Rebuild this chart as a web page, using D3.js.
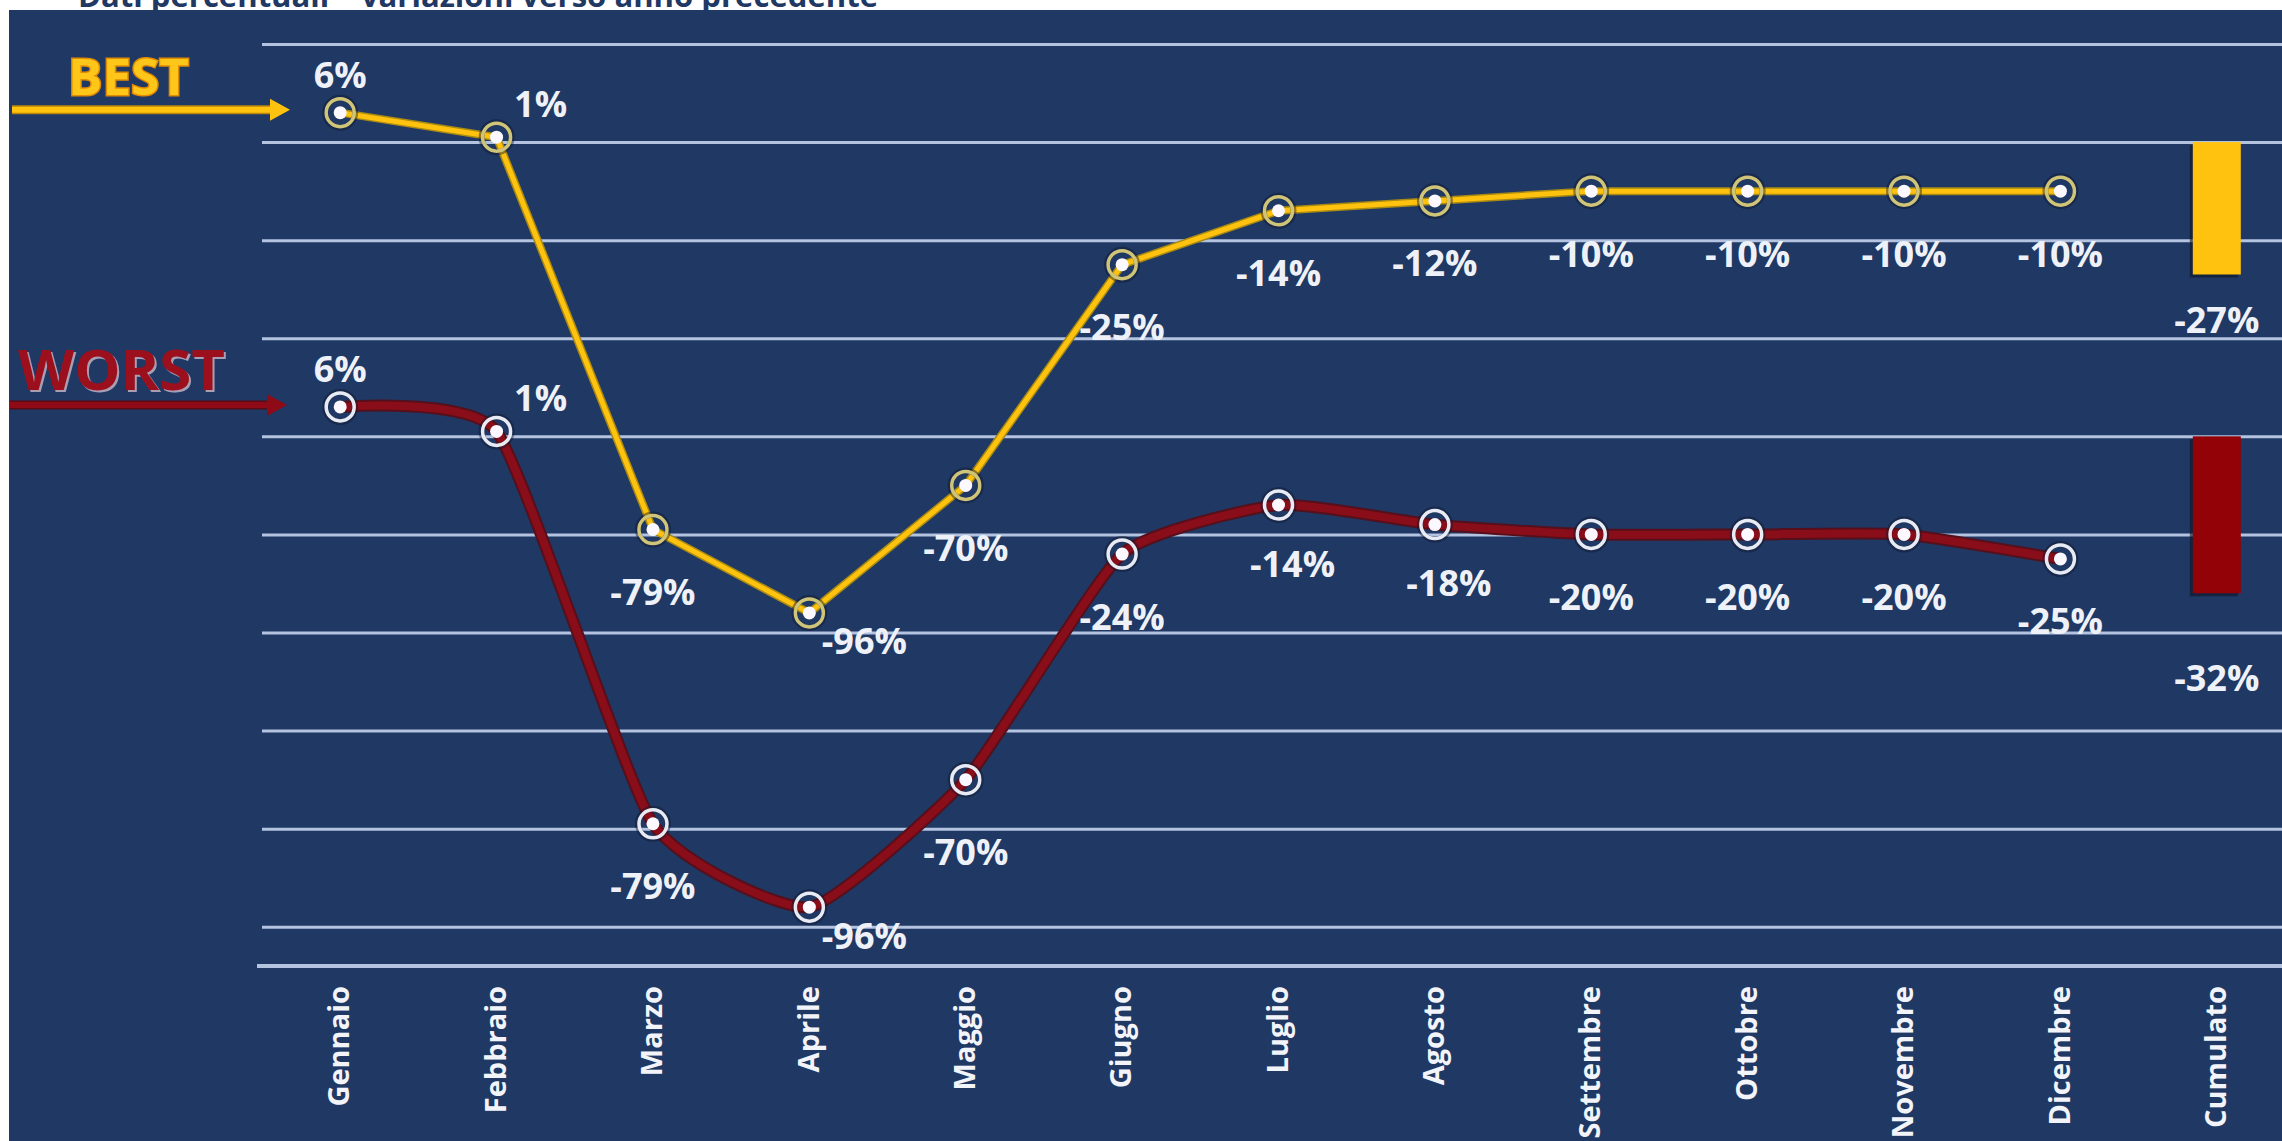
<!DOCTYPE html>
<html>
<head>
<meta charset="utf-8">
<script src="https://cdn.jsdelivr.net/npm/d3@7"></script>
<style>
  html, body { margin: 0; padding: 0; background: #ffffff; overflow: hidden; }
  svg { display: block; font-family: "Open Sans", "DejaVu Sans", sans-serif; }
</style>
</head>
<body>
<svg id="chart" width="2282" height="1141"></svg>
<script>
// ---- data -------------------------------------------------------------
const months = ["Gennaio", "Febbraio", "Marzo", "Aprile", "Maggio", "Giugno",
                "Luglio", "Agosto", "Settembre", "Ottobre", "Novembre", "Dicembre"];
const cumulatoLabel = "Cumulato";
const categories = [...months, cumulatoLabel];

const seriesNames = ["BEST", "WORST"];
const bestValues  = [6, 1, -79, -96, -70, -25, -14, -12, -10, -10, -10, -10];
const worstValues = [6, 1, -79, -96, -70, -24, -14, -18, -20, -20, -20, -25];
const cumulatoValues = [-27, -32];   // BEST, WORST

const gridValues = d3.range(20, -161, -20);

// label placement around each point
const bestLabelPlacement  = ["above", "aboveRight", "below", "belowRight", "below", "below",
                             "below", "below", "below", "below", "below", "below"];
const worstLabelPlacement = ["above", "aboveRight", "below", "belowRight", "belowFar", "below",
                             "belowSlightRight", "belowSlightRight", "below", "below", "below", "below"];

// ---- layout ------------------------------------------------------------
const W = 2282, H = 1141;
const plotLeft = 262, axisY = 966;
const colors = {
  panel: "#1f3864",
  grid: "#b3c3e0",
  title: "#1f3864",
  best: "#ffc20e",
  bestEdge: "#a98a12",
  bestRing: "#cfc478",
  worst: "#8a0d1a",
  worstEdge: "#55101c",
  worstRing: "#e8ebf3",
  label: "#eef2f8"
};
const offsets = {
  above: [0, -38],
  aboveRight: [44, -34],
  below: [0, 62],
  belowFar: [0, 72],
  belowSlightRight: [14, 58],
  belowRight: [55, 28]
};

const svg = d3.select("#chart");

// heading strip above the panel
svg.append("text")
  .attr("x", 78).attr("y", 7)
  .attr("textLength", 800).attr("lengthAdjust", "spacingAndGlyphs")
  .style("font-size", "30px").style("font-weight", 700)
  .attr("fill", colors.title)
  .text("Dati percentuali – variazioni verso anno precedente");

// dark panel
svg.append("rect")
  .attr("x", 9).attr("y", 10)
  .attr("width", W - 9).attr("height", H - 10)
  .attr("fill", colors.panel);

// ---- scales ------------------------------------------------------------
const x = d3.scalePoint().domain(categories).range([plotLeft, 2295]).padding(0.5);
const yBest = d3.scaleLinear().domain([20, -168]).range([44, axisY]);
// the WORST band sits three grid steps below the BEST band
const yWorst = yBest.copy().domain([80, -108]);

// ---- grid --------------------------------------------------------------
const grid = svg.append("g")
  .attr("transform", `translate(${plotLeft},0)`)
  .call(d3.axisLeft(yBest).tickValues(gridValues).tickSize(-(W - plotLeft)).tickFormat(""));
grid.select(".domain").remove();
grid.selectAll("line").attr("stroke", colors.grid).attr("stroke-width", 3);

// ---- x axis ------------------------------------------------------------
const xAxis = svg.append("g")
  .attr("transform", `translate(0,${axisY})`)
  .call(d3.axisBottom(x).tickSize(0).tickSizeOuter(0));
xAxis.select(".domain")
  .attr("d", `M${plotLeft - 5},0H${W}`)
  .attr("stroke", colors.grid).attr("stroke-width", 4);
xAxis.selectAll("text")
  .attr("transform", "rotate(-90)")
  .attr("x", -20).attr("y", 0).attr("dy", "0.3em")
  .style("text-anchor", "end")
  .style("font-size", "29px").style("font-weight", 700)
  .style("font-family", "'Open Sans', sans-serif")
  .attr("fill", "#f2f4f9");

// ---- cumulative bars ----------------------------------------------------
const barW = 48;
const cx = x(cumulatoLabel);
const bars = [
  { v: cumulatoValues[0], y: yBest,  fill: colors.best, labelDy: 45 },
  { v: cumulatoValues[1], y: yWorst, fill: "#930207",   labelDy: 84 }
];
bars.forEach(b => {
  const y0 = b.y(0), y1 = b.y(b.v);
  svg.append("rect")
    .attr("x", cx - barW / 2 - 3).attr("y", y0 + 3)
    .attr("width", barW).attr("height", y1 - y0)
    .attr("fill", "#0c1426").attr("opacity", 0.6);
  svg.append("rect")
    .attr("x", cx - barW / 2).attr("y", y0)
    .attr("width", barW).attr("height", y1 - y0)
    .attr("fill", b.fill);
  svg.append("text")
    .attr("x", cx).attr("y", y1 + b.labelDy)
    .attr("text-anchor", "middle").attr("dominant-baseline", "central")
    .style("font-size", "36px").style("font-weight", 700)
    .attr("fill", colors.label)
    .text(`${b.v}%`);
});

// ---- lines ---------------------------------------------------------------
const bestLine = d3.line()
  .x((d, i) => x(months[i])).y(d => yBest(d));
const worstLine = d3.line()
  .x((d, i) => x(months[i])).y(d => yWorst(d))
  .curve(d3.curveCardinal.tension(0.5));

svg.append("path").attr("d", worstLine(worstValues))
  .attr("fill", "none").attr("stroke", colors.worstEdge).attr("stroke-width", 12)
  .attr("stroke-linejoin", "round").attr("stroke-linecap", "round");
svg.append("path").attr("d", worstLine(worstValues))
  .attr("fill", "none").attr("stroke", colors.worst).attr("stroke-width", 8)
  .attr("stroke-linejoin", "round").attr("stroke-linecap", "round");

svg.append("path").attr("d", bestLine(bestValues))
  .attr("fill", "none").attr("stroke", colors.bestEdge).attr("stroke-width", 8)
  .attr("stroke-linejoin", "round");
svg.append("path").attr("d", bestLine(bestValues))
  .attr("fill", "none").attr("stroke", colors.best).attr("stroke-width", 5)
  .attr("stroke-linejoin", "round");

// ---- markers -------------------------------------------------------------
function drawMarkers(values, y, ring) {
  const g = svg.append("g");
  const pts = g.selectAll("g").data(values).join("g")
    .attr("transform", (d, i) => `translate(${x(months[i])},${y(d)})`);
  pts.append("circle").attr("r", 15).attr("fill", "none")
    .attr("stroke", "#10182c").attr("stroke-width", 6).attr("opacity", 0.45);
  pts.append("circle").attr("r", 14).attr("fill", "none")
    .attr("stroke", ring).attr("stroke-width", 3.5);
  pts.append("circle").attr("r", 6.5).attr("fill", "#fbf8ff");
}
drawMarkers(bestValues, yBest, colors.bestRing);
drawMarkers(worstValues, yWorst, colors.worstRing);

// ---- value labels --------------------------------------------------------
function drawLabels(values, y, placement) {
  svg.append("g").selectAll("text").data(values).join("text")
    .attr("x", (d, i) => x(months[i]) + offsets[placement[i]][0])
    .attr("y", (d, i) => y(d) + offsets[placement[i]][1])
    .attr("text-anchor", "middle").attr("dominant-baseline", "central")
    .style("font-size", "36px").style("font-weight", 700)
    .attr("fill", colors.label)
    .text(d => `${d}%`);
}
drawLabels(bestValues, yBest, bestLabelPlacement);
drawLabels(worstValues, yWorst, worstLabelPlacement);

// ---- series tags with arrows --------------------------------------------
function arrow(yPos, x0, x1, color, edge) {
  const g = svg.append("g");
  g.append("line").attr("x1", x0).attr("x2", x1 - 16).attr("y1", yPos).attr("y2", yPos)
    .attr("stroke", edge).attr("stroke-width", 9);
  g.append("line").attr("x1", x0).attr("x2", x1 - 16).attr("y1", yPos).attr("y2", yPos)
    .attr("stroke", color).attr("stroke-width", 6);
  g.append("path")
    .attr("d", `M${x1 - 20},${yPos - 11}L${x1},${yPos}L${x1 - 20},${yPos + 11}Z`)
    .attr("fill", color);
}
arrow(yBest(bestValues[0]) - 3, 12, 290, colors.best, "#b8860b");
arrow(yWorst(worstValues[0]) - 2, 10, 287, "#8e0a16", "#5c0a14");

svg.append("text")
  .attr("x", 68).attr("y", 95)
  .attr("textLength", 121).attr("lengthAdjust", "spacingAndGlyphs")
  .style("font-size", "51px").style("font-weight", 700)
  .attr("fill", "#ffc61a").attr("stroke", "#e08a00").attr("stroke-width", 3)
  .style("paint-order", "stroke")
  .text(seriesNames[0]);

svg.append("text")
  .attr("x", 20).attr("y", 392)
  .attr("textLength", 207).attr("lengthAdjust", "spacingAndGlyphs")
  .style("font-size", "56px").style("font-weight", 700)
  .attr("fill", "#cbb7c6").attr("opacity", 0.8)
  .text(seriesNames[1]);
svg.append("text")
  .attr("x", 18).attr("y", 390)
  .attr("textLength", 207).attr("lengthAdjust", "spacingAndGlyphs")
  .style("font-size", "56px").style("font-weight", 700)
  .attr("fill", "#9c0f1c")
  .text(seriesNames[1]);
</script>
</body>
</html>
